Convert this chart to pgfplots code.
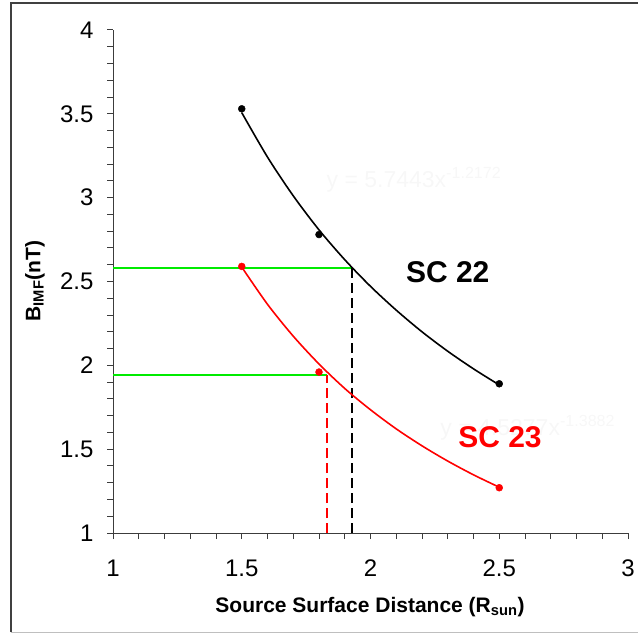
\documentclass[border=0pt]{standalone}
\usepackage{fontspec}
\setmainfont{Liberation Sans}
\usepackage{pgfplots}
\pgfplotsset{compat=1.18}
\definecolor{xgreen}{RGB}{0,235,0}
\definecolor{xred}{RGB}{255,0,0}
\definecolor{faint}{RGB}{247,247,247}
\definecolor{axgray}{RGB}{60,60,60}

\begin{document}
\begin{tikzpicture}
\useasboundingbox (0,0) rectangle (638pt,633pt);
% outer frame
\draw[line width=1.3pt, black!75] (11pt,1pt) -- (11pt,630pt) -- (638pt,630pt);
\draw[line width=1pt, black!25] (11pt,1pt) -- (638pt,1pt);

\begin{axis}[
  at={(113pt,100pt)}, anchor=south west,
  scale only axis, width=515pt, height=503pt,
  xmin=1, xmax=3, ymin=1, ymax=4,
  axis x line*=bottom, axis y line*=left,
  axis line style={-, line width=1pt, axgray},
  xtick={1,1.5,2,2.5,3}, ytick={1,1.5,2,2.5,3,3.5,4},
  minor x tick num=4, minor y tick num=4,
  tick align=outside, major tick length=6pt, minor tick length=6pt,
  tick style={line width=1pt, axgray},
  ticklabel style={font=\fontsize{24}{28}\selectfont},
  /pgf/number format/assume math mode=true,
  xticklabel style={yshift=-17pt},
  yticklabel style={xshift=-10pt},
  clip=false,
]
% faint trendline equations
\node[faint, anchor=base west, font=\fontsize{23}{26}\selectfont]
  at (axis cs:1.816,3.063) {y = 5.7443x\textsuperscript{-1.2172}};
\node[faint, anchor=base west, font=\fontsize{23}{26}\selectfont]
  at (axis cs:2.258,1.584) {y = 4.5277x\textsuperscript{-1.3882}};

% reading lines
\addplot[xgreen, line width=2pt] coordinates {(1,2.58) (1.928,2.58)};
\addplot[xgreen, line width=2pt] coordinates {(1,1.94) (1.83,1.94)};
\addplot[black, line width=2pt, dash pattern=on 10pt off 5pt] coordinates {(1.928,1) (1.928,2.58)};
\addplot[xred, line width=2pt, dash pattern=on 10pt off 5pt] coordinates {(1.83,1) (1.83,1.94)};

% power trendlines
\addplot[black, line width=1.6pt, smooth] coordinates {
  (1.5,3.507) (1.6,3.242) (1.7,3.011) (1.8,2.808) (1.9,2.630) (2.0,2.471)
  (2.1,2.329) (2.2,2.200) (2.3,2.084) (2.4,1.979) (2.5,1.883)};
\addplot[xred, line width=1.6pt, smooth] coordinates {
  (1.5,2.586) (1.6,2.364) (1.7,2.174) (1.8,2.008) (1.9,1.862) (2.0,1.735)
  (2.1,1.621) (2.2,1.520) (2.3,1.429) (2.4,1.347) (2.5,1.273)};

% data
\addplot[only marks, mark=*, mark size=3.5pt, black] coordinates {
  (1.5,3.53) (1.8,2.78) (2.5,1.89)};
\addplot[only marks, mark=*, mark size=3.5pt, xred] coordinates {
  (1.5,2.59) (1.8,1.96) (2.5,1.27)};

\node[font=\bfseries\fontsize{30}{34}\selectfont, black] at (axis cs:2.30,2.556) {SC 22};
\node[font=\bfseries\fontsize{30}{34}\selectfont, xred] at (axis cs:2.503,1.572) {SC 23};
\end{axis}

% axis titles
\node[font=\bfseries\fontsize{21}{24}\selectfont] at (370pt,26pt)
  {Source Surface Distance (R\textsubscript{sun})};
\node[font=\bfseries\fontsize{21}{24}\selectfont, rotate=90] at (35pt,352pt)
  {B\textsubscript{IMF}(nT)};
\end{tikzpicture}
\end{document}
